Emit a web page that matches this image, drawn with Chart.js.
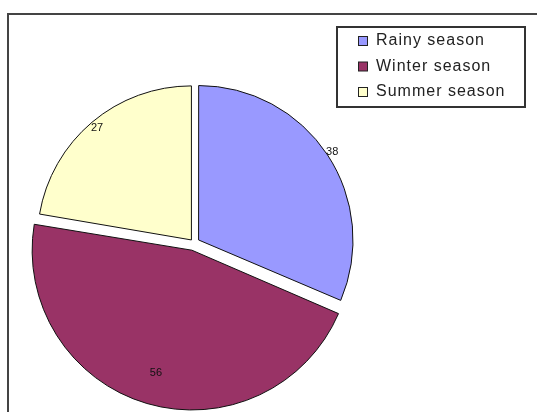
<!DOCTYPE html>
<html>
<head>
<meta charset="utf-8">
<script src="https://cdn.jsdelivr.net/npm/chart.js@4"></script>
<style>
  html, body { margin: 0; background: #fff; }
  #wrap { position: relative; width: 537px; height: 412px; }
</style>
</head>
<body>
<div id="wrap"><canvas id="seasons"></canvas></div>
<script>
const seasons = ["Rainy season", "Winter season", "Summer season"];
const values = [38, 56, 27];
const fillColors = ["#9999ff", "#993366", "#ffffcc"];

// outer frame of the chart (runs off the right and bottom edge)
const frame = {
  id: "frame",
  beforeDraw(chart) {
    const ctx = chart.ctx;
    ctx.save();
    ctx.fillStyle = "#fff";
    ctx.fillRect(0, 0, chart.width, chart.height);
    ctx.strokeStyle = "#444";
    ctx.lineWidth = 2;
    ctx.strokeRect(8, 14, 700, 600);
    ctx.restore();
  },
};

// value labels on the slices
const sliceLabels = {
  id: "sliceLabels",
  afterDatasetsDraw(chart) {
    const ctx = chart.ctx;
    const dist = [1.04, 0.83, 0.95]; // fraction of radius, per slice
    const vals = chart.data.datasets[0].data;
    ctx.save();
    ctx.font = "11px 'Liberation Sans', Arial, sans-serif";
    ctx.fillStyle = "#111";
    ctx.textAlign = "center";
    ctx.textBaseline = "middle";
    chart.getDatasetMeta(0).data.forEach(function (arc, i) {
      const mid = (arc.startAngle + arc.endAngle) / 2;
      const shift = (arc.options.offset || 0) / 4;
      const r = arc.outerRadius * dist[i] + shift;
      ctx.fillText(vals[i], arc.x + Math.cos(mid) * r, arc.y + Math.sin(mid) * r);
    });
    ctx.restore();
  },
};

// boxed legend at the top right
const boxLegend = {
  id: "boxLegend",
  afterDraw(chart) {
    const ctx = chart.ctx;
    const ds = chart.data.datasets[0];
    ctx.save();
    ctx.fillStyle = "#fff";
    ctx.fillRect(337, 27, 188, 80);
    ctx.strokeStyle = "#333";
    ctx.lineWidth = 2;
    ctx.strokeRect(337, 27, 188, 80);
    ctx.font = "16px 'Liberation Sans', Arial, sans-serif";
    ctx.letterSpacing = "1px";
    ctx.textBaseline = "middle";
    chart.data.labels.forEach(function (lab, i) {
      const y = 41 + i * 25.5;
      ctx.fillStyle = ds.backgroundColor[i];
      ctx.fillRect(358.5, y - 4.5, 9, 9);
      ctx.strokeStyle = "#222";
      ctx.lineWidth = 1;
      ctx.strokeRect(358.5, y - 4.5, 9, 9);
      ctx.fillStyle = "#222";
      ctx.fillText(lab, 376, y);
    });
    ctx.restore();
  },
};

new Chart(document.getElementById("seasons"), {
  type: "pie",
  data: {
    labels: seasons,
    datasets: [
      {
        data: values,
        backgroundColor: fillColors,
        borderColor: "#111",
        borderWidth: 1,
        offset: [22, 30, 16],
        hoverOffset: 0,
      },
    ],
  },
  options: {
    responsive: true,
    maintainAspectRatio: false,
    animation: false,
    radius: 154,
    layout: {
      padding: { left: 24, right: 173, top: 84, bottom: 10 },
    },
    plugins: {
      legend: { display: false },
      tooltip: { enabled: false },
    },
  },
  plugins: [frame, sliceLabels, boxLegend],
});
</script>
</body>
</html>
